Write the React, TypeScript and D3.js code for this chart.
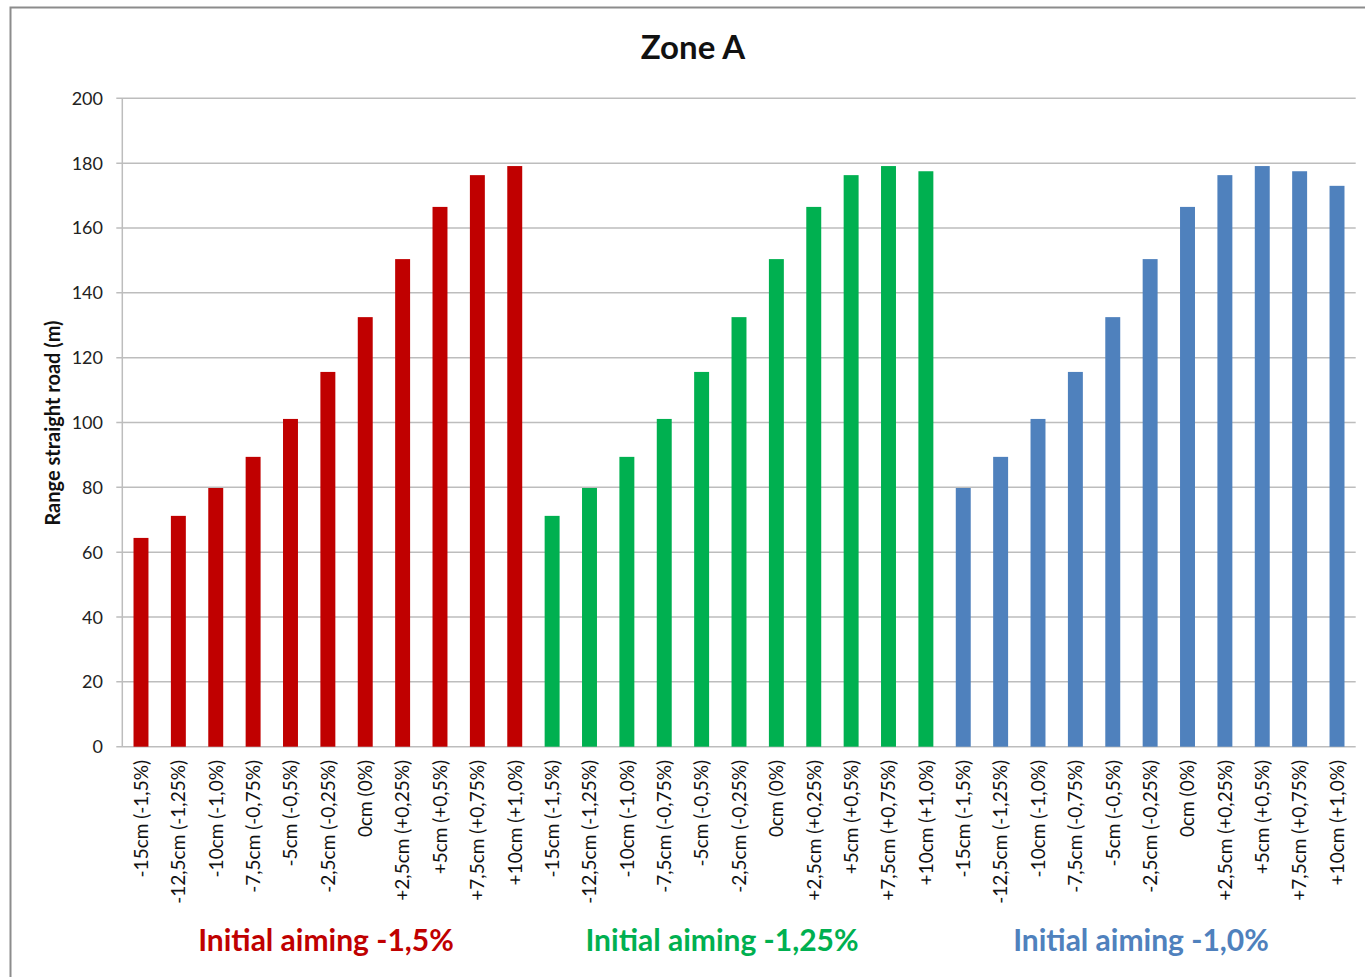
import React, { useEffect, useRef } from "react";
import * as d3 from "d3";

const offsets = [
  "-15cm (-1,5%)", "-12,5cm (-1,25%)", "-10cm (-1,0%)", "-7,5cm (-0,75%)",
  "-5cm (-0,5%)", "-2,5cm (-0,25%)", "0cm (0%)", "+2,5cm (+0,25%)",
  "+5cm (+0,5%)", "+7,5cm (+0,75%)", "+10cm (+1,0%)",
];
const groups = ["Initial aiming -1,5%", "Initial aiming -1,25%", "Initial aiming -1,0%"];
const groupColors = ["#C00000", "#00B050", "#4F81BD"];
const valuesA15 = [64.4, 71.2, 79.8, 89.4, 101.1, 115.6, 132.5, 150.4, 166.5, 176.3, 179.1];
const valuesA125 = [71.2, 79.8, 89.4, 101.1, 115.6, 132.5, 150.4, 166.5, 176.3, 179.1, 177.5];
const valuesA10 = [79.8, 89.4, 101.1, 115.6, 132.5, 150.4, 166.5, 176.3, 179.1, 177.5, 173.0];
const yTicks = [0, 20, 40, 60, 80, 100, 120, 140, 160, 180, 200];
const title = "Zone A";
const yTitle = "Range straight road (m)";

const FONT = "Lato, 'Open Sans', sans-serif";

export default function App() {
  const ref = useRef<SVGSVGElement | null>(null);

  useEffect(() => {
    const svg = d3.select(ref.current);
    svg.selectAll("*").remove();

    const W = 1365, H = 977;
    const left = 122.3, right = 1355.7, top = 98.3, bottom = 746.7;

    const series = [valuesA15, valuesA125, valuesA10];
    const data = series.flatMap((vals, g) =>
      vals.map((v, i) => ({ key: `${g}-${i}`, label: offsets[i], value: v, group: g }))
    );

    const x = d3.scaleBand<string>()
      .domain(data.map((d) => d.key))
      .range([left, right])
      .paddingInner(0.6)
      .paddingOuter(0.3);
    const y = d3.scaleLinear().domain([0, 200]).range([bottom, top]);

    svg.attr("width", W).attr("height", H);
    svg.append("rect").attr("x", 0).attr("y", 0).attr("width", W).attr("height", H).attr("fill", "#fff");
    // outer frame
    svg.append("rect")
      .attr("x", 10.5).attr("y", 7.5).attr("width", W).attr("height", H + 20)
      .attr("fill", "none").attr("stroke", "#8c8c8c").attr("stroke-width", 2);

    // gridlines
    svg.append("g").selectAll("line").data(yTicks.filter((t) => t > 0)).join("line")
      .attr("x1", left - 6).attr("x2", right)
      .attr("y1", (d) => y(d)).attr("y2", (d) => y(d))
      .attr("stroke", "#bdbdbd").attr("stroke-width", 1.5);

    // axes
    svg.append("line").attr("x1", left).attr("x2", left).attr("y1", top).attr("y2", bottom)
      .attr("stroke", "#bdbdbd").attr("stroke-width", 1.5);
    svg.append("line").attr("x1", left - 6).attr("x2", right).attr("y1", bottom).attr("y2", bottom)
      .attr("stroke", "#bdbdbd").attr("stroke-width", 1.5);

    svg.append("g").selectAll("text").data(yTicks).join("text")
      .attr("x", 103).attr("y", (d) => y(d)).attr("dy", "0.36em")
      .attr("text-anchor", "end")
      .attr("font-family", FONT).attr("font-size", 18).attr("fill", "#222")
      .text((d) => String(d));

    // bars
    svg.append("g").selectAll("rect").data(data).join("rect")
      .attr("x", (d) => x(d.key)!)
      .attr("width", x.bandwidth())
      .attr("y", (d) => y(d.value))
      .attr("height", (d) => y(0) - y(d.value))
      .attr("fill", (d) => groupColors[d.group]);

    // x labels
    svg.append("g").selectAll("text").data(data).join("text")
      .attr("transform", (d) => `translate(${x(d.key)! + x.bandwidth() / 2},760) rotate(-90)`)
      .attr("dy", "0.36em")
      .attr("text-anchor", "end")
      .attr("font-family", FONT).attr("font-size", 19).attr("fill", "#111")
      .text((d) => d.label);

    // title
    svg.append("text").attr("x", 693).attr("y", 59).attr("text-anchor", "middle")
      .attr("font-family", FONT).attr("font-weight", "bold").attr("font-size", 33).attr("fill", "#111")
      .text(title);

    // y title
    svg.append("text")
      .attr("transform", `translate(53,423) rotate(-90)`)
      .attr("dy", "0.36em")
      .attr("text-anchor", "middle")
      .attr("font-family", FONT).attr("font-weight", "bold").attr("font-size", 20).attr("fill", "#111")
      .text(yTitle);

    // group labels
    const groupX = [326, 722, 1141];
    svg.append("g").selectAll("text").data(groups).join("text")
      .attr("x", (_, i) => groupX[i]).attr("y", 951)
      .attr("text-anchor", "middle")
      .attr("font-family", FONT).attr("font-weight", "bold").attr("font-size", 30)
      .attr("fill", (_, i) => groupColors[i])
      .text((d) => d);
  }, []);

  return <svg ref={ref} style={{ position: "absolute", left: 0, top: 0, display: "block" }} />;
}
